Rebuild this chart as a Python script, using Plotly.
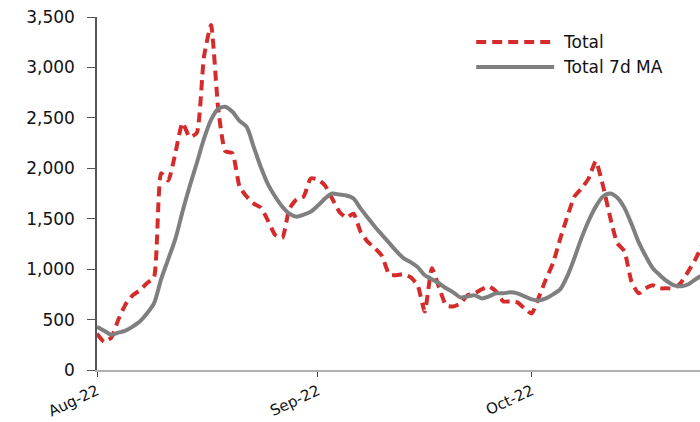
import pandas as pd
import plotly.graph_objects as go

# Daily totals from 1 Aug 2022
start_date = "2022-08-01"
total = [
    360, 280, 320, 500, 650, 740, 790, 860, 920, 1950,
    1880, 2150, 2450, 2310, 2350, 3100, 3420, 2600, 2170, 2150,
    1820, 1720, 1650, 1610, 1480, 1340, 1310, 1600, 1690, 1720,
    1900, 1890, 1830, 1700, 1570, 1510, 1550, 1370, 1270, 1210,
    1130, 950, 940, 950, 920, 840, 580, 1010, 820, 640,
    630, 660, 740, 760, 800, 830, 780, 680, 680, 670,
    610, 560, 720, 900, 1060, 1300, 1520, 1720, 1800, 1900,
    2070, 1830, 1520, 1260, 1180, 880, 760, 810, 840, 810,
    810, 810, 870, 980, 1100, 1250,
]
# 7-day moving average as published
total_7d_ma = [
    430, 390, 350, 370, 390, 430, 480, 560, 660, 900,
    1100, 1300, 1570, 1820, 2050, 2290, 2480, 2590, 2610, 2560,
    2470, 2410, 2210, 2010, 1840, 1720, 1620, 1550, 1520, 1540,
    1570, 1630, 1700, 1750, 1740, 1730, 1700, 1600, 1510, 1420,
    1340, 1260, 1180, 1110, 1070, 1020, 940, 900, 860, 810,
    770, 720, 730, 740, 710, 730, 760, 760, 770, 760,
    730, 700, 690, 710, 750, 800, 930, 1110, 1310, 1480,
    1620, 1720, 1750, 1710, 1610, 1450, 1270, 1130, 1010, 940,
    880, 840, 830, 850, 900, 940,
]
month_ticks = ["2022-08-01", "2022-09-01", "2022-10-01"]
month_labels = ["Aug-22", "Sep-22", "Oct-22"]
y_ticks = [0, 500, 1000, 1500, 2000, 2500, 3000, 3500]
series_names = ["Total", "Total 7d MA"]

dates = pd.date_range(start_date, periods=len(total), freq="D")

RED = "#d52b2b"
GREY = "#7f7f7f"
FONT = "DejaVu Sans"

fig = go.Figure()
fig.add_trace(go.Scatter(
    x=dates, y=total, mode="lines", name=series_names[0],
    line=dict(color=RED, width=4, dash="10px,6px", shape="spline", smoothing=0.5),
    showlegend=False,
))
fig.add_trace(go.Scatter(
    x=dates, y=total_7d_ma, mode="lines", name=series_names[1],
    line=dict(color=GREY, width=4, shape="spline", smoothing=0.8),
    showlegend=False,
))

# Legend drawn by hand: long sample lines with labels to the right
PLOT_L, PLOT_R, PLOT_T, PLOT_B = 96.5, 700, 17, 370


def px_x(px):
    return (px - PLOT_L) / (PLOT_R - PLOT_L)


def px_y(py):
    return (PLOT_B - py) / (PLOT_B - PLOT_T)


legend_rows = [(42, RED, "10px,6px", series_names[0]), (67, GREY, "solid", series_names[1])]
for py, col, dash, label in legend_rows:
    fig.add_shape(type="line", xref="paper", yref="paper",
                  x0=px_x(476), x1=px_x(554), y0=px_y(py), y1=px_y(py),
                  line=dict(color=col, width=4, dash=dash))
    fig.add_annotation(xref="paper", yref="paper", x=px_x(561), y=px_y(py),
                       text=label, showarrow=False, xanchor="left", yanchor="middle",
                       font=dict(family=FONT, size=17, color="#111111"))

fig.update_xaxes(
    type="date",
    range=["2022-08-01", "2022-10-24 15:00"],
    tickvals=month_ticks, ticktext=month_labels, tickangle=-25,
    ticks="outside", ticklen=5, tickwidth=1.2, tickcolor="#444444",
    showline=True, linecolor="#b0b0b0", linewidth=1.5,
    showgrid=False, zeroline=False,
    tickfont=dict(family=FONT, size=15, color="#111111"),
)
fig.update_yaxes(
    range=[0, 3500], tickvals=y_ticks, tickformat=",d",
    ticks="outside", ticklen=8, tickwidth=1.2, tickcolor="#555555",
    showline=True, linecolor="#555555", linewidth=1.5,
    showgrid=False, zeroline=False, ticklabelstandoff=9,
    tickfont=dict(family=FONT, size=17, color="#111111"),
)
fig.update_layout(
    width=700, height=422,
    margin=dict(l=96.5, r=0, t=17, b=52, autoexpand=False),
    paper_bgcolor="white", plot_bgcolor="white",
)
fig.write_html("out.html")
